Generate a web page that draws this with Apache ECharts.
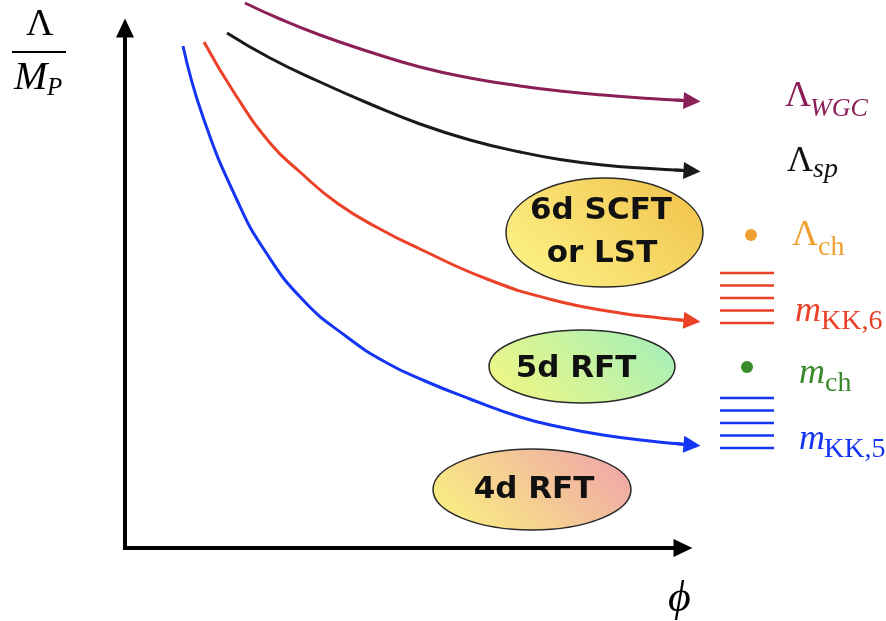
<!DOCTYPE html>
<html><head><meta charset="utf-8">
<script src="https://cdn.jsdelivr.net/npm/echarts@6/dist/echarts.min.js"></script>
<style>html,body{margin:0;padding:0;background:#fff}#c{width:886px;height:621px}</style>
</head><body><div id="c"></div>
<script>
// phi values and scale values (schematic units)
const phiWGC = [2.4, 3.1, 3.9, 4.9, 5.9, 6.9, 7.9, 8.7, 9.56, 10.5, 11.0, 11.34];
const lamWGC = [10.9, 10.58, 10.26, 9.92, 9.62, 9.4, 9.24, 9.14, 9.06, 8.99, 8.96, 8.94];
const phiSp = [2.04, 2.9, 3.9, 4.9, 5.9, 6.9, 7.9, 8.7, 9.56, 10.5, 11.0, 11.34];
const lamSp = [10.3, 9.8, 9.32, 8.88, 8.48, 8.16, 7.92, 7.77, 7.66, 7.59, 7.56, 7.54];
const phiKK6 = [1.58, 2.2, 2.9, 3.5, 4.24, 5.1, 5.9, 7.24, 8.56, 9.9, 10.7, 11.0, 11.34];
const mKK6 = [10.12, 9.08, 8.1, 7.52, 6.9, 6.38, 5.98, 5.38, 4.96, 4.7, 4.6, 4.57, 4.54];
const phiKK5 = [1.16, 1.56, 2.24, 2.8, 3.56, 4.44, 5.24, 6.0, 6.9, 7.9, 8.7, 9.56, 10.5, 11.0, 11.34];
const mKK5 = [10.04, 8.62, 6.96, 5.94, 4.96, 4.22, 3.7, 3.34, 2.98, 2.62, 2.42, 2.26, 2.14, 2.09, 2.06];
const kk6Levels = [5.5, 5.25, 5.0, 4.75, 4.5];
const kk5Levels = [3.0, 2.75, 2.5, 2.25, 2.0];
const lambdaCh = 6.26;
const mCh = 3.62;
const regionNames = [['6d SCFT', 'or LST'], ['5d RFT'], ['4d RFT']];

const curves = [
  {phi: phiWGC, val: lamWGC, color: '#8b1f57'},
  {phi: phiSp, val: lamSp, color: '#1a1a1a'},
  {phi: phiKK6, val: mKK6, color: '#ea4127'},
  {phi: phiKK5, val: mKK5, color: '#1535f5'}
];
const spectrumX = 12.44;
const serif = '"Liberation Serif", "DejaVu Serif", serif';
const hand = '"DejaVu Sans", "Noto Sans", sans-serif';

const series = [];
curves.forEach(c => {
  series.push({
    type: 'line', smooth: 0.5, symbol: 'none', clip: false, silent: true,
    data: c.phi.map((p, i) => [p, c.val[i]]),
    lineStyle: {color: c.color, width: 3, opacity: 1}
  });
});
series.push({
  type: 'lines', coordinateSystem: 'cartesian2d', clip: false, silent: true,
  symbol: ['none', 'triangle'], symbolSize: 17,
  data: curves.map(c => {
    const n = c.phi.length;
    return {coords: [[c.phi[n - 2], c.val[n - 2]], [c.phi[n - 1], c.val[n - 1]]],
            lineStyle: {color: c.color, width: 3, opacity: 1}};
  })
});
series.push({
  type: 'scatter', clip: false, silent: true, symbol: 'rect', symbolSize: [54, 2.6],
  data: kk6Levels.map(v => [spectrumX, v]), itemStyle: {color: '#ea4127', opacity: 1}
});
series.push({
  type: 'scatter', clip: false, silent: true, symbol: 'rect', symbolSize: [54, 2.6],
  data: kk5Levels.map(v => [spectrumX, v]), itemStyle: {color: '#1535f5', opacity: 1}
});
series.push({
  type: 'scatter', clip: false, silent: true, symbolSize: 12,
  data: [{value: [spectrumX + 0.08, lambdaCh], itemStyle: {color: '#f0a030', opacity: 1}},
         {value: [spectrumX, mCh], itemStyle: {color: '#3a8a2c', opacity: 1}}]
});

function grad(cx, cy, d, c0, c1) {
  return {type: 'linear', global: true, x: cx - d, y: cy + d, x2: cx + d, y2: cy - d,
          colorStops: [{offset: 0, color: c0}, {offset: 1, color: c1}]};
}
function ell(cx, cy, rx, ry, c0, c1) {
  return {type: 'ellipse', z: 10, shape: {cx: cx, cy: cy, rx: rx, ry: ry},
          style: {fill: grad(cx, cy, 70, c0, c1), stroke: '#2a2a2a', lineWidth: 1.5}};
}
function txt(x, y, t, font, color) {
  return {type: 'text', x: x, y: y, z: 100,
          style: {text: t, font: font, fill: color, align: 'left', verticalAlign: 'middle'}};
}
function ctxt(x, y, t) {
  return {type: 'text', x: x, y: y, z: 100,
          style: {text: t, font: 'bold 31px ' + hand, fill: '#111', align: 'center', verticalAlign: 'middle'}};
}

const graphic = [
  ell(604.5, 232.5, 98.5, 54.5, '#fdf489', '#f1c24c'),
  ell(582, 366.5, 93, 36.5, '#f9f87e', '#9ceebe'),
  ell(532, 489.5, 99, 40.5, '#fbf67e', '#eea0ab'),
  ctxt(601, 211, regionNames[0][0]),
  ctxt(602, 254, regionNames[0][1]),
  ctxt(576, 369, regionNames[1][0]),
  ctxt(534, 490, regionNames[2][0]),
  // y-axis name: Lambda / M_P
  txt(26, 25, 'Λ', '38px ' + serif, '#000'),
  {type: 'rect', z: 100, shape: {x: 12, y: 51, width: 54, height: 2}, style: {fill: '#000'}},
  txt(14, 78, 'M', 'italic 40px ' + serif, '#000'),
  txt(47, 88, 'P', 'italic 25px ' + serif, '#000'),
  // x-axis name
  txt(668, 599, 'ϕ', 'italic 44px ' + serif, '#000'),
  // right labels
  txt(785, 97, 'Λ', '36px ' + serif, '#8b1f57'),
  txt(810, 109, 'WGC', 'italic 26px ' + serif, '#8b1f57'),
  txt(787, 162, 'Λ', '36px ' + serif, '#111'),
  txt(813, 170, 'sp', 'italic 28px ' + serif, '#111'),
  txt(792, 236, 'Λ', '36px ' + serif, '#f0a030'),
  txt(818, 248, 'ch', '28px ' + serif, '#f0a030'),
  txt(795, 312, 'm', 'italic 36px ' + serif, '#ea4127'),
  txt(821, 322, 'KK,6', '28px ' + serif, '#ea4127'),
  txt(799, 374, 'm', 'italic 36px ' + serif, '#3a8a2c'),
  txt(825, 384, 'ch', '28px ' + serif, '#3a8a2c'),
  txt(799, 440, 'm', 'italic 36px ' + serif, '#1535f5'),
  txt(824, 450, 'KK,5', '28px ' + serif, '#1535f5')
];

const chart = echarts.init(document.getElementById('c'), null, {renderer: 'canvas'});
chart.setOption({
  animation: false,
  backgroundColor: '#fff',
  grid: {left: 125, top: 28, right: 203, bottom: 73, outerBoundsMode: 'none', containLabel: false},
  xAxis: {type: 'value', min: 0, max: 11.16,
    axisLine: {show: true, symbol: ['none', 'triangle'], symbolSize: [18, 19],
      lineStyle: {color: '#000', width: 4, cap: 'square'}},
    axisTick: {show: false}, axisLabel: {show: false}, splitLine: {show: false}},
  yAxis: {type: 'value', min: 0, max: 10.4,
    axisLine: {show: true, symbol: ['none', 'triangle'], symbolSize: [18, 19],
      lineStyle: {color: '#000', width: 4, cap: 'square'}},
    axisTick: {show: false}, axisLabel: {show: false}, splitLine: {show: false}},
  series: series,
  graphic: graphic
});
</script></body></html>
